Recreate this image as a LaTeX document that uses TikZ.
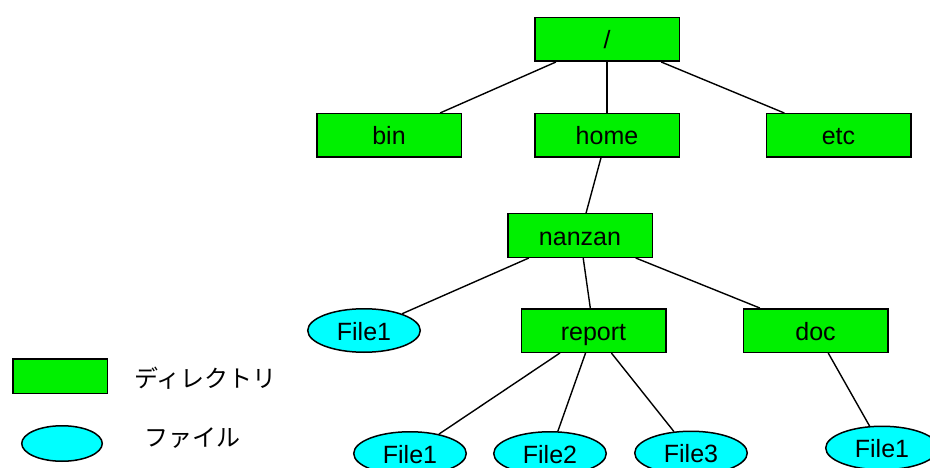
\documentclass[tikz,border=0pt]{standalone}
\usepackage{fontspec}
\setmainfont{Liberation Sans}
\newfontfamily\jpfont{Noto Sans CJK JP}
\usetikzlibrary{shapes.geometric}
\definecolor{dirgreen}{RGB}{0,240,0}
\definecolor{filecyan}{RGB}{0,255,255}
\begin{document}
\begin{tikzpicture}[x=1pt,y=-1pt,
  dirbox/.style={draw=black,line width=1.5pt,fill=dirgreen,minimum width=144.5pt,minimum height=43.5pt,inner sep=0pt,text height=19pt,text depth=0pt,font=\fontsize{25}{30}\selectfont},
  filebox/.style={ellipse,draw=black,line width=1.5pt,fill=filecyan,minimum width=112.5pt,minimum height=43.5pt,inner sep=0pt,text height=19pt,text depth=0pt,font=\fontsize{25}{30}\selectfont},
  link/.style={line width=1.4pt},
  legendtext/.style={anchor=west,inner sep=0pt,font=\jpfont\fontsize{24}{28}\selectfont}]
\useasboundingbox (0,0) rectangle (930,468);
% directories
\node[dirbox] (root) at (607,39.5) {/};
\node[dirbox] (bin) at (389,135.5) {bin};
\node[dirbox] (home) at (607,135.5) {home};
\node[dirbox] (etc) at (838.5,135.5) {etc};
\node[dirbox] (nanzan) at (580,235.5) {nanzan};
\node[dirbox] (report) at (593.5,330.5) {report};
\node[dirbox] (doc) at (815.5,330.5) {doc};
% files
\node[filebox] (f1a) at (364,330.5) {File1};
\node[filebox] (f1b) at (410,453.5) {File1};
\node[filebox] (f2) at (550,453.5) {File2};
\node[filebox] (f3) at (691,453) {File3};
\node[filebox] (f1c) at (882,448) {File1};
% connectors
\draw[link] (root) -- (bin);
\draw[link] (root) -- (home);
\draw[link] (root) -- (etc);
\draw[link] (home) -- (nanzan);
\draw[link] (nanzan) -- (f1a);
\draw[link] (nanzan) -- (report);
\draw[link] (nanzan) -- (doc);
\draw[link] (report) -- (f1b);
\draw[link] (report) -- (f2);
\draw[link] (report) -- (f3);
\draw[link] (doc) -- (f1c);
% legend
\node[dirbox,minimum width=94.5pt,minimum height=34.5pt] (legdir) at (60,376) {};
\node[filebox,minimum width=80.5pt,minimum height=35.5pt] (legfile) at (62,443.5) {};
\node[legendtext] (legdirtext) at (134,378) {ディレクトリ};
\node[legendtext] (legfiletext) at (144,438) {ファイル};
\end{tikzpicture}
\end{document}
